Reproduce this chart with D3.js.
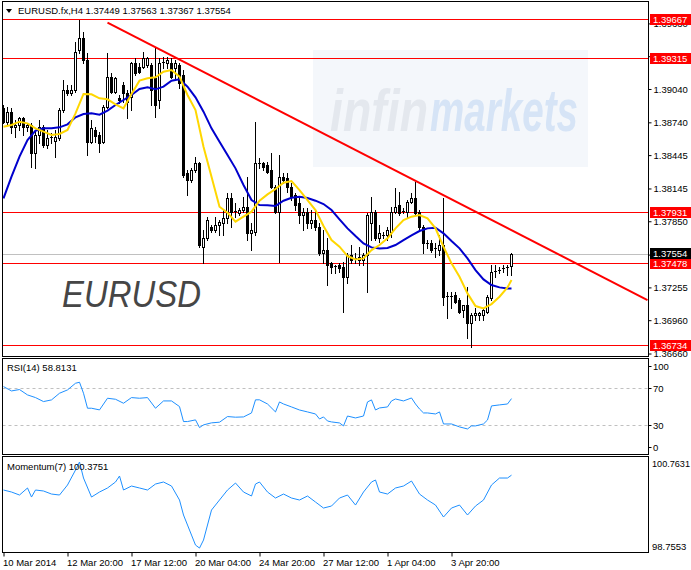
<!DOCTYPE html>
<html><head><meta charset="utf-8">
<script src="https://cdn.jsdelivr.net/npm/d3@7"></script>
<style>
html,body{margin:0;padding:0;background:#fff;}
svg{display:block;}
text{font-family:"Liberation Sans",Arial,sans-serif;}
</style></head><body>
<svg id="c" width="691" height="570"></svg>
<script>
// ---------- DATA ----------
const symbolTitle = "EURUSD.fx,H4";
const headerOHLC = ["1.37449","1.37563","1.37367","1.37554"];
const openP = [1.38866,1.38746,1.38836,1.38701,1.38716,1.38776,1.38701,1.38716,1.38461,1.38626,
1.38701,1.38536,1.38596,1.38575,1.38596,1.38851,1.39031,1.39001,1.39031,1.39391,
1.39496,1.39301,1.38566,1.38671,1.38626,1.38566,1.38881,1.39151,1.39016,1.38956,
1.39076,1.39001,1.38971,1.39271,1.39241,1.39241,1.39256,1.39256,1.39136,1.38941,
1.39271,1.39271,1.39271,1.39226,1.39256,1.39166,1.38281,1.38221,1.38311,1.38371,
1.37621,1.37696,1.37801,1.37771,1.37816,1.37831,1.37876,1.38056,1.37942,1.37921,
1.37951,1.37981,1.37741,1.37756,1.38371,1.38371,1.38356,1.38311,1.38161,1.37936,
1.38251,1.38236,1.38161,1.38086,1.38011,1.37906,1.37936,1.37831,1.37861,1.37801,
1.37561,1.37591,1.37471,1.37447,1.37456,1.37441,1.37351,1.37546,1.37522,1.37501,
1.37501,1.37546,1.37831,1.37936,1.37696,1.37729,1.37726,1.37756,1.37936,1.37996,
1.37939,1.37936,1.38026,1.38056,1.37936,1.37801,1.37657,1.37651,1.37606,1.37591,
1.37636,1.37177,1.37168,1.37186,1.37141,1.37051,1.37096,1.36931,1.37006,1.37006,
1.37006,1.37036,1.37156,1.37390,1.37408,1.37420,1.37426,1.37449];
const highP = [1.38896,1.38881,1.38866,1.38761,1.38791,1.38785,1.38737,1.38731,1.38671,1.38761,
1.38716,1.38671,1.38641,1.38671,1.38866,1.39121,1.39076,1.39076,1.39466,1.39661,
1.39556,1.39361,1.38761,1.38701,1.38656,1.38896,1.39361,1.39181,1.39151,1.38986,
1.39106,1.39031,1.39286,1.39316,1.39271,1.39376,1.39331,1.39271,1.39406,1.39316,
1.39331,1.39331,1.39316,1.39301,1.39271,1.39211,1.38311,1.38326,1.38431,1.38386,
1.37771,1.37891,1.37816,1.37891,1.37861,1.37951,1.38101,1.38101,1.38011,1.37966,
1.38071,1.38251,1.37831,1.38746,1.38416,1.38386,1.38386,1.38461,1.38176,1.38446,
1.38281,1.38281,1.38191,1.38101,1.38071,1.37966,1.37966,1.37951,1.37951,1.37831,
1.37771,1.37696,1.37486,1.37456,1.37471,1.37486,1.37561,1.37636,1.37561,1.37621,
1.37561,1.37921,1.38071,1.37951,1.37816,1.37756,1.37801,1.37981,1.38146,1.38116,
1.37966,1.38041,1.38101,1.38206,1.37951,1.37816,1.37681,1.37681,1.37651,1.37726,
1.38056,1.37216,1.37216,1.37216,1.37156,1.37096,1.37261,1.37021,1.37066,1.37036,
1.37066,1.37186,1.37456,1.37456,1.37441,1.37456,1.37456,1.37563];
const lowP = [1.38731,1.38716,1.38641,1.38611,1.38671,1.38626,1.38665,1.38341,1.38326,1.38551,
1.38521,1.38506,1.38551,1.38431,1.38581,1.38836,1.38986,1.38986,1.39016,1.39361,
1.39271,1.38446,1.38551,1.38566,1.38476,1.38551,1.38866,1.39001,1.39001,1.38911,
1.38926,1.38776,1.38851,1.39166,1.39181,1.39226,1.39241,1.38896,1.38791,1.38866,
1.39226,1.39226,1.39136,1.39121,1.39046,1.38251,1.38086,1.38206,1.38296,1.37621,
1.37471,1.37681,1.37756,1.37756,1.37726,1.37726,1.37831,1.37801,1.37891,1.37906,
1.37936,1.37681,1.37591,1.37726,1.38326,1.38311,1.38281,1.38146,1.37921,1.37486,
1.38191,1.38116,1.38041,1.37951,1.37831,1.37771,1.37786,1.37786,1.37771,1.37546,
1.37471,1.37276,1.37381,1.37381,1.37396,1.37036,1.37291,1.37471,1.37471,1.37456,
1.37456,1.37216,1.37681,1.37681,1.37666,1.37696,1.37681,1.37711,1.37921,1.37906,
1.37921,1.37891,1.38011,1.37906,1.37771,1.37561,1.37606,1.37576,1.37531,1.37546,
1.37096,1.36976,1.37066,1.37111,1.37021,1.36991,1.36796,1.36721,1.36961,1.36961,
1.36961,1.37021,1.37141,1.37351,1.37381,1.37396,1.37366,1.37367];
const closeP = [1.38746,1.38836,1.38701,1.38716,1.38776,1.38701,1.38716,1.38461,1.38626,1.38701,
1.38536,1.38596,1.38611,1.38611,1.38851,1.39031,1.39001,1.39031,1.39376,1.39496,
1.39301,1.38566,1.38686,1.38617,1.38551,1.38881,1.39151,1.39016,1.39136,1.38941,
1.39001,1.38926,1.39271,1.39181,1.39196,1.39316,1.39316,1.39031,1.38896,1.39271,
1.39286,1.39301,1.39151,1.39271,1.39091,1.38266,1.38221,1.38311,1.38371,1.37636,
1.37696,1.37861,1.37771,1.37816,1.37846,1.37876,1.38056,1.37936,1.37930,1.37951,
1.37981,1.37741,1.37771,1.38371,1.38365,1.38341,1.38296,1.38161,1.37936,1.38251,
1.38221,1.38161,1.38071,1.37996,1.37906,1.37936,1.37831,1.37861,1.37801,1.37561,
1.37591,1.37456,1.37441,1.37435,1.37426,1.37351,1.37546,1.37501,1.37510,1.37531,
1.37546,1.37906,1.37936,1.37696,1.37741,1.37720,1.37771,1.37936,1.37981,1.37921,
1.37930,1.38026,1.38056,1.37921,1.37801,1.37651,1.37645,1.37591,1.37597,1.37636,
1.37171,1.37165,1.37174,1.37126,1.37036,1.37096,1.36931,1.37006,1.37021,1.37021,
1.37051,1.37171,1.37396,1.37402,1.37414,1.37429,1.37441,1.37554];

// moving averages, read at these bar indices
const maIdx = [0,2,4,6,8,10,12,14,16,18,20,22,24,26,28,30,32,34,36,38,40,42,44,46,48,50,52,54,56,58,60,62,64,66,68,70,72,74,76,78,80,82,84,86,88,90,92,94,96,98,100,102,104,106,108,110,112,114,116,118,120,122,124,126,127];
const maFast = [1.38701,1.38716,1.38746,1.38731,1.38686,1.38656,1.38626,1.38635,1.38671,1.38821,1.38995,1.38992,1.38956,1.38947,1.38902,1.38866,1.38995,1.39115,1.39136,1.39145,1.39196,1.39211,1.39151,1.38986,1.38851,1.38521,1.38251,1.37981,1.37927,1.37846,1.37891,1.37936,1.38035,1.38092,1.38140,1.38197,1.38212,1.38131,1.38041,1.37951,1.37807,1.37681,1.37621,1.37537,1.37507,1.37516,1.37591,1.37636,1.37696,1.37786,1.37861,1.37891,1.37906,1.37876,1.37786,1.37621,1.37471,1.37351,1.37201,1.37087,1.37066,1.37105,1.37171,1.37255,1.37321];
const maSlow = [1.38056,1.38251,1.38431,1.38581,1.38665,1.38686,1.38686,1.38695,1.38722,1.38785,1.38815,1.38821,1.38809,1.38845,1.38896,1.38941,1.38986,1.39040,1.39055,1.39037,1.39061,1.39115,1.39127,1.39061,1.38965,1.38836,1.38686,1.38566,1.38446,1.38326,1.38176,1.38041,1.37996,1.37993,1.37987,1.38035,1.38062,1.38071,1.38059,1.38035,1.38005,1.37951,1.37867,1.37786,1.37717,1.37651,1.37615,1.37606,1.37609,1.37636,1.37681,1.37723,1.37762,1.37786,1.37792,1.37741,1.37672,1.37606,1.37516,1.37411,1.37327,1.37276,1.37255,1.37246,1.37246];

const levels = [1.39667,1.39315,1.37931,1.37478,1.36734];
const bidPrice = 1.37554;
const trendPts = [[26,1.39637],[161,1.37141]];
const priceTicks = [1.36660,1.36960,1.37255,1.37550,1.37850,1.38145,1.38445,1.38740,1.39040,1.39335,1.39630];

const rsiIdx = [0,2,4,6,8,10,12,14,16,18,19,20,21,22,24,26,28,30,32,34,36,38,40,42,44,45,46,48,49,50,52,54,56,58,60,62,63,64,66,68,69,70,72,74,76,78,79,80,81,82,84,85,86,88,90,91,92,93,94,96,97,98,100,102,103,104,105,106,108,109,110,112,114,116,117,118,120,121,122,124,126,127];
const rsiVal = [71.8,67.1,68.6,62.8,59.9,55.6,57.4,64.6,68.2,75.4,76.5,64.6,48.4,48.4,46.6,59.2,58.1,53.8,59.9,59.2,59.9,48.4,56.3,56.3,50.2,34.0,34.0,35.8,27.5,30.4,32.6,33.3,39.4,38.7,39.0,43.3,57.5,57.5,53.0,44.4,55.2,53.0,49.8,46.5,44.4,42.2,36.8,39.0,34.6,33.6,32.5,29.3,40.0,37.9,40.0,55.2,57.4,46.5,48.7,49.8,56.3,58.4,56.3,59.5,53.0,47.6,43.3,43.3,42.2,44.4,31.4,31.4,28.2,26.0,29.3,29.3,31.4,35.7,50.9,52.0,53.0,58.8131];
const rsiLevels = [70,30];
const rsiTicks = [100,70,30,0];

const momIdx = [0,2,4,6,7,8,10,12,14,16,18,19,20,22,24,26,28,29,30,32,34,36,38,40,42,44,45,46,47,48,49,50,51,52,54,56,58,60,62,63,64,66,68,70,72,74,76,78,80,82,84,86,88,90,92,93,94,96,98,100,102,104,106,108,110,112,114,116,118,120,122,124,126,127];
const momVal = [100.058,100.015,99.951,100.101,99.908,100.058,100.037,99.972,99.951,100.165,100.485,100.656,100.314,99.908,100.015,100.101,100.229,100.357,100.058,100.143,100.101,100.058,100.186,100.229,100.143,99.844,99.524,99.310,99.096,98.882,98.818,98.989,99.310,99.630,99.844,100.058,100.207,100.015,99.930,100.186,100.229,100.015,99.887,99.972,99.887,99.844,99.930,99.801,99.673,99.716,99.887,99.951,99.737,100.015,100.229,100.272,100.015,99.972,100.101,100.143,100.250,99.972,99.844,99.737,99.481,99.673,99.737,99.524,99.716,99.844,100.165,100.314,100.314,100.3751];
const momRange = [98.7553,100.7631];

const timeIdx = [0,16,32,48,64,80,96,112];
const timeLabels = ["10 Mar 2014","12 Mar 20:00","17 Mar 12:00","20 Mar 04:00","24 Mar 20:00","27 Mar 12:00","1 Apr 04:00","3 Apr 20:00"];

// ---------- DRAW ----------
const svg = d3.select('#c');
const FS = 9.5;
const L = 2.5, R = 648.5;
const panels = {main:[1.5,356.5], rsi:[358.5,454.5], mom:[456.5,552.5]};

const x = d3.scaleLinear().domain([0,161]).range([3.5,647.5]);
const y = d3.scaleLinear().domain([1.36734,1.39667]).range([345.3,19.3]);
const yR = d3.scaleLinear().domain([0,100]).range([453,360.5]);
const yM = d3.scaleLinear().domain(momRange).range([551,457]);

const defs = svg.append('defs');
Object.entries(panels).forEach(([k,[t,b]])=>{
  defs.append('clipPath').attr('id','clip-'+k).append('rect')
    .attr('x',L+0.5).attr('y',t+0.5).attr('width',R-L-1).attr('height',b-t-1);
});

svg.append('rect').attr('width',691).attr('height',570).attr('fill','#fff');

// main panel
const main = svg.append('g').attr('clip-path','url(#clip-main)');
// watermark
main.append('rect').attr('x',313).attr('y',50).attr('width',275).attr('height',117).attr('fill','#f4f7fb');
main.append('text').attr('x',330).attr('y',131)
  .attr('font-size',60).attr('font-weight','bold').attr('font-style','italic')
  .attr('fill','#e4e8ee').attr('textLength',98).attr('lengthAdjust','spacingAndGlyphs').text('infin');
main.append('text').attr('x',430).attr('y',131)
  .attr('font-size',60).attr('font-weight','bold').attr('font-style','italic')
  .attr('fill','#d6e4f6').attr('textLength',148).attr('lengthAdjust','spacingAndGlyphs').text('markets');

// levels
main.selectAll('line.lvl').data(levels).join('line')
  .attr('x1',L).attr('x2',R).attr('y1',d=>Math.round(y(d))+0.5).attr('y2',d=>Math.round(y(d))+0.5)
  .attr('stroke','#ff0000').attr('stroke-width',1);
main.append('line').attr('x1',L).attr('x2',R)
  .attr('y1',Math.round(y(bidPrice))+0.5).attr('y2',Math.round(y(bidPrice))+0.5)
  .attr('stroke','#c0c0c0');

// EURUSD text
main.append('text').attr('x',62).attr('y',307).attr('font-size',37).attr('font-style','italic')
  .attr('fill','#464646').attr('textLength',139).attr('lengthAdjust','spacingAndGlyphs').text('EURUSD');

// candles
const bars = d3.range(openP.length).map(i=>({i,o:openP[i],h:highP[i],l:lowP[i],c:closeP[i]}));
const cg = main.append('g');
cg.selectAll('line.wick').data(bars).join('line')
  .attr('x1',d=>x(d.i)).attr('x2',d=>x(d.i))
  .attr('y1',d=>Math.round(y(d.h))).attr('y2',d=>Math.round(y(d.l))+1)
  .attr('stroke','#000').attr('stroke-width',1);
bars.forEach(d=>{
  const top = Math.round(y(Math.max(d.o,d.c)));
  const bot = Math.round(y(Math.min(d.o,d.c)));
  const h = bot-top;
  if (h < 2) {
    cg.append('rect').attr('x',x(d.i)-1.5).attr('y',top).attr('width',3).attr('height',1).attr('fill','#000');
  } else if (d.c >= d.o) {
    cg.append('rect').attr('x',x(d.i)-1).attr('y',top+0.5).attr('width',2).attr('height',h)
      .attr('fill','#fff').attr('stroke','#000').attr('stroke-width',1);
  } else {
    cg.append('rect').attr('x',x(d.i)-1.5).attr('y',top).attr('width',3).attr('height',h+1).attr('fill','#000');
  }
});

// MAs
const maLine = d3.line().x(d=>x(d[0])).y(d=>y(d[1]));
main.append('path').datum(maIdx.map((k,j)=>[k,maSlow[j]])).attr('d',maLine)
  .attr('fill','none').attr('stroke','#0000cd').attr('stroke-width',2);
main.append('path').datum(maIdx.map((k,j)=>[k,maFast[j]])).attr('d',maLine)
  .attr('fill','none').attr('stroke','#ffd700').attr('stroke-width',2);

// trendline
main.append('path').datum(trendPts).attr('d',maLine)
  .attr('fill','none').attr('stroke','#ff0000').attr('stroke-width',2);

// header
svg.append('path').attr('d','M6,9 L12,9 L9,13 Z').attr('fill','#000');
svg.append('text').attr('x',18).attr('y',14).attr('font-size',FS)
  .text(symbolTitle + '  ' + headerOHLC.join(' '));

// RSI panel
const rg = svg.append('g').attr('clip-path','url(#clip-rsi)');
rg.selectAll('line.rl').data(rsiLevels).join('line')
  .attr('x1',L).attr('x2',R).attr('y1',d=>Math.round(yR(d))+0.5).attr('y2',d=>Math.round(yR(d))+0.5)
  .attr('stroke','#c0c0c0').attr('stroke-dasharray','3,3');
rg.append('path').datum(rsiIdx.map((k,j)=>[k,rsiVal[j]]))
  .attr('d',d3.line().x(d=>x(d[0])).y(d=>yR(d[1])))
  .attr('fill','none').attr('stroke','#1e90ff').attr('stroke-width',1);
svg.append('text').attr('x',7).attr('y',371).attr('font-size',FS).text('RSI(14) 58.8131');

// Momentum panel
const mg = svg.append('g').attr('clip-path','url(#clip-mom)');
mg.append('path').datum(momIdx.map((k,j)=>[k,momVal[j]]))
  .attr('d',d3.line().x(d=>x(d[0])).y(d=>yM(d[1])))
  .attr('fill','none').attr('stroke','#1e90ff').attr('stroke-width',1);
svg.append('text').attr('x',7).attr('y',470).attr('font-size',FS).text('Momentum(7) 100.3751');

// frames
Object.values(panels).forEach(([t,b])=>{
  svg.append('rect').attr('x',L).attr('y',t).attr('width',R-L).attr('height',b-t)
    .attr('fill','none').attr('stroke','#000').attr('stroke-width',1);
});

// price axis
const labelled = levels.concat([bidPrice]);
const pa = svg.append('g').attr('transform',`translate(${R},0)`)
  .call(d3.axisRight(y).tickValues(priceTicks).tickFormat(d3.format('.5f')).tickSize(3).tickPadding(2));
pa.select('.domain').remove();
pa.selectAll('text').attr('font-size',FS).attr('font-family','"Liberation Sans",Arial,sans-serif').attr('fill','#000');
// labels hidden under a price box in the reference
pa.selectAll('.tick').filter(d=>labelled.some(v=>Math.abs(y(v)-y(d))<3)).select('text').remove();

// level labels
const lab = svg.append('g');
levels.forEach(v=>{
  const yy = Math.round(y(v));
  lab.append('rect').attr('x',650).attr('y',yy-5).attr('width',41).attr('height',11).attr('fill','#ff0000');
  lab.append('text').attr('x',653).attr('y',yy+4).attr('font-size',FS).attr('fill','#fff').text(v.toFixed(5));
});
{
  const yy = Math.round(y(bidPrice));
  lab.append('rect').attr('x',650).attr('y',yy-6).attr('width',41).attr('height',11).attr('fill','#000');
  lab.append('text').attr('x',653).attr('y',yy+3).attr('font-size',FS).attr('fill','#fff').text(bidPrice.toFixed(5));
}

// RSI axis
rsiTicks.forEach(v=>{
  const yy = Math.min(Math.max(yR(v),366),447);
  svg.append('line').attr('x1',R).attr('x2',R+3).attr('y1',Math.round(yy)+0.5).attr('y2',Math.round(yy)+0.5).attr('stroke','#000');
  svg.append('text').attr('x',653).attr('y',yy+3.5).attr('font-size',FS).text(v);
});
// Momentum axis
[momRange[1],momRange[0]].forEach(v=>{
  const yy = Math.min(Math.max(yM(v),463),546);
  const t = svg.append('text').attr('x',652).attr('y',yy+3.5).attr('font-size',FS).text(v.toFixed(4));
  if (v >= 100) t.attr('textLength',38).attr('lengthAdjust','spacingAndGlyphs');
});

// time axis
const ta = svg.append('g').attr('transform',`translate(0,${panels.mom[1]})`)
  .call(d3.axisBottom(x).tickValues(timeIdx).tickFormat((d,i)=>timeLabels[i]).tickSize(4).tickPadding(3));
ta.select('.domain').remove();
ta.selectAll('text').attr('font-size',FS).attr('font-family','"Liberation Sans",Arial,sans-serif')
  .attr('text-anchor','start').attr('fill','#000').attr('dx',-1);
</script>
</body></html>
